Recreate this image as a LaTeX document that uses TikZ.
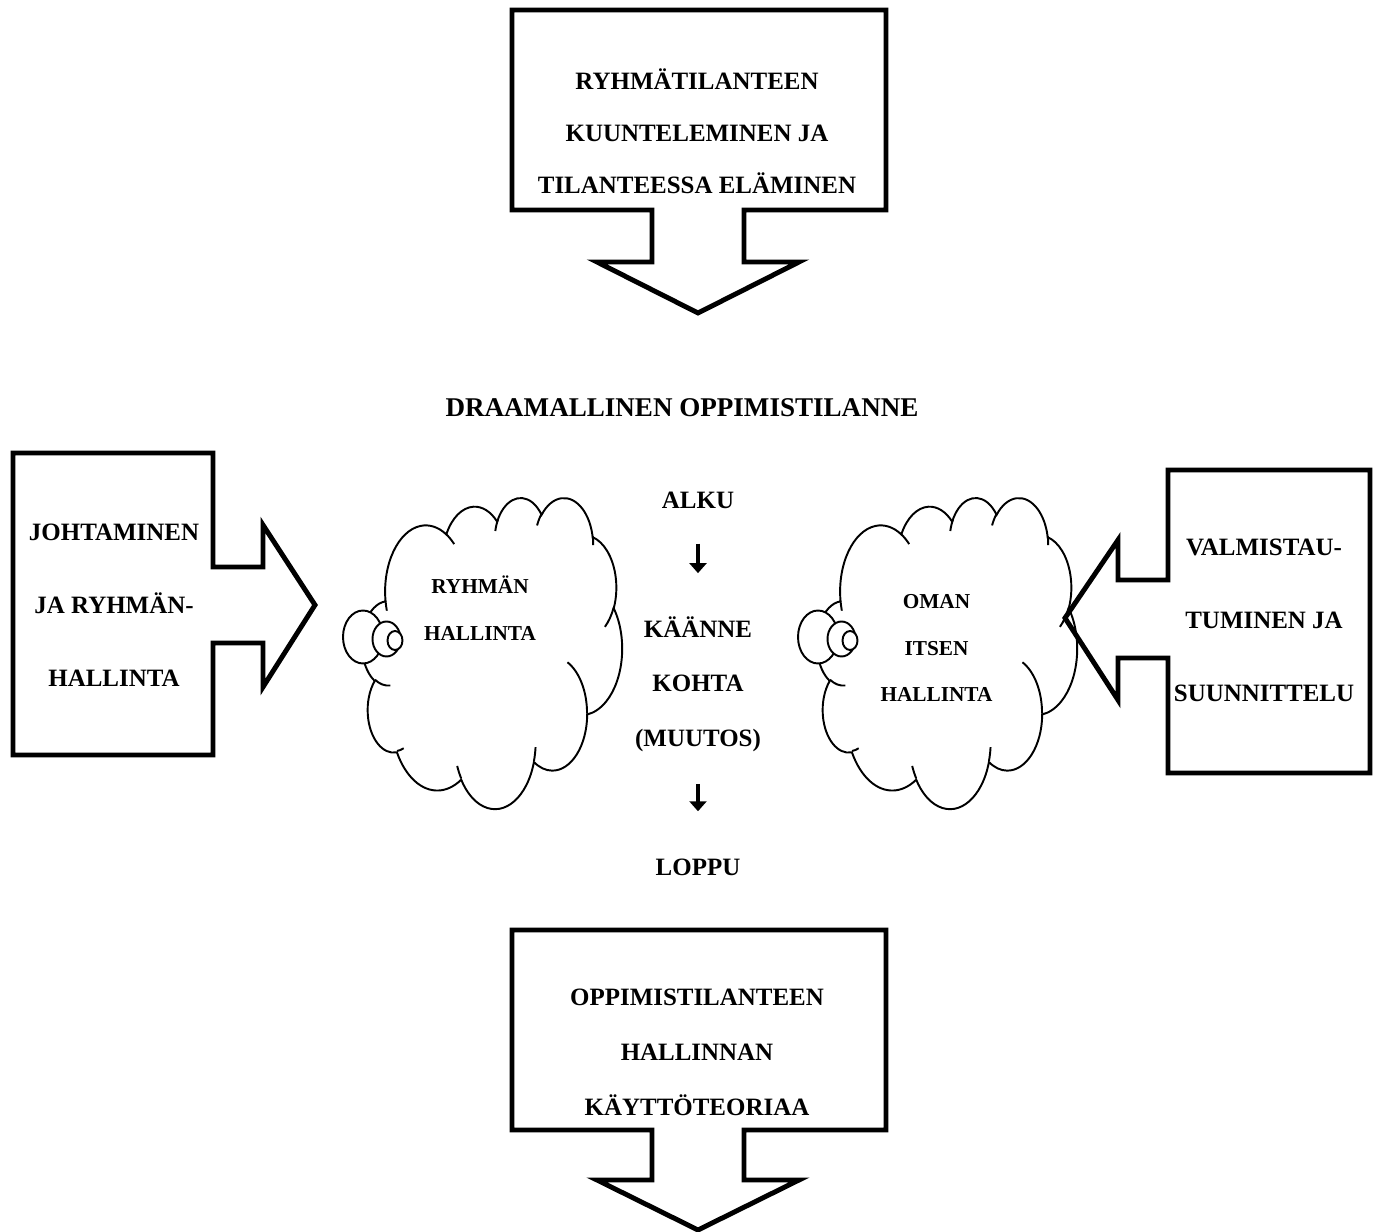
\documentclass[tikz,border=0pt]{standalone}
\usepackage{fontspec}
\setmainfont{Liberation Serif}
\usetikzlibrary{arrows.meta}

% one puff of the cloud: x radius, y radius, start angle, sweep (angles as seen, not parametric)
\newcommand\puff[4]{arc[x radius=#1,y radius=#2,
  start angle={atan2(#1*sin(#3),#2*cos(#3))},
  delta angle={mod(atan2(#1*sin(#3+#4),#2*cos(#3+#4))-atan2(#1*sin(#3),#2*cos(#3))+720,360)}]}

\tikzset{
  blockarrow/.style={draw=black,line width=2.8pt,line join=miter},
  cloudline/.style={draw=black,line width=1.1pt},
  boxtext/.style={align=center,inner sep=0pt,font=\fontsize{14.2}{31}\selectfont\bfseries},
  sidetext/.style={align=center,inner sep=0pt,font=\fontsize{14.2}{41.5}\selectfont\bfseries},
  cloudtext/.style={align=center,inner sep=0pt,font=\fontsize{12.1}{26.7}\selectfont\bfseries},
  steptext/.style={align=center,inner sep=0pt,font=\fontsize{14.2}{31}\selectfont\bfseries},
  title/.style={inner sep=0pt,font=\fontsize{15.4}{18}\selectfont\bfseries},
  flowarrow/.style={-{Triangle[length=2mm,width=3.4mm]},draw=black,line width=1.9pt},
  thought/.pic={
    \begin{scope}[xscale=0.1204,yscale=-0.1440]
      \draw[cloudline,fill=white] (3.900,14.370)
        \puff{6.753}{9.190}{-190.4875}{123.7805}
        \puff{5.333}{7.267}{-144.1024}{89.9452}
        \puff{4.365}{5.945}{-145.8079}{99.7230}
        \puff{4.857}{6.595}{-130.9861}{117.2417}
        \puff{5.333}{7.273}{-78.7089}{109.0269}
        \puff{6.775}{9.220}{-46.2673}{130.2690}
        \puff{5.785}{7.867}{0.6250}{114.0333}
        \puff{6.752}{9.215}{22.4516}{115.1726}
        \puff{7.720}{10.543}{66.2426}{75.7110}
        \puff{4.360}{5.918}{-274.9421}{146.7356}
        \puff{4.345}{5.945}{-246.8285}{152.5189} -- cycle;
      \draw[cloudline]
        (4.693,26.177) \puff{4.345}{5.945}{86.7420}{26.4295}
        (6.928,34.899) \puff{4.360}{5.918}{73.6105}{11.4475}
        (16.478,39.090) \puff{6.752}{9.215}{137.6242}{14.0811}
        (28.827,34.751) \puff{6.752}{9.215}{6.4533}{15.9984}
        (34.129,22.954) \puff{5.785}{7.867}{-70.2924}{70.9174}
        (41.798,15.354) \puff{5.333}{7.273}{30.3180}{27.7515}
        (38.324,5.426) \puff{4.857}{6.595}{-13.7443}{14.8589}
        (29.078,3.952) \puff{4.857}{6.595}{-149.1815}{18.1954}
        (22.141,4.720) \puff{4.365}{5.945}{-163.4943}{20.4915}
        (14.005,5.192) \puff{6.753}{9.190}{-66.7070}{12.3194}
        (4.127,15.789) \puff{6.753}{9.190}{157.6544}{11.8582};
    \end{scope}
    \draw[cloudline,fill=white] (0.02,-2.80) ellipse[x radius=0.40,y radius=0.53];
    \draw[cloudline,fill=white] (0.49,-2.84) ellipse[x radius=0.28,y radius=0.35];
    \draw[cloudline,fill=white] (0.66,-2.87) ellipse[x radius=0.15,y radius=0.19];
  },
}

\begin{document}
\begin{tikzpicture}[x=1cm,y=1cm]
\useasboundingbox (0,0) rectangle (27.6,24.62);

% thought clouds
\pic at (7.24,14.68) {thought};
\pic at (16.34,14.68) {thought};

% top
\draw[blockarrow] (10.24,24.42) -- (17.72,24.42) -- (17.72,20.42) -- (14.88,20.42) -- (14.88,19.38)
  -- (15.98,19.38) -- (13.96,18.36) -- (11.94,19.38) -- (13.04,19.38) -- (13.04,20.42) -- (10.24,20.42) -- cycle;
\node[boxtext,font=\fontsize{14.2}{29.5}\selectfont\bfseries] (listening) at (13.94,22.0)
  {RYHMÄTILANTEEN\\KUUNTELEMINEN JA\\TILANTEESSA ELÄMINEN};

\node[title] (drama) at (13.64,16.46) {DRAAMALLINEN OPPIMISTILANNE};

% left and right
\draw[blockarrow] (0.26,15.56) -- (4.26,15.56) -- (4.26,13.28) -- (5.26,13.28) -- (5.26,14.12)
  -- (6.30,12.52) -- (5.26,10.88) -- (5.26,11.76) -- (4.26,11.76) -- (4.26,9.52) -- (0.26,9.52) -- cycle;
\node[sidetext] (leading) at (2.28,12.52) {JOHTAMINEN\\JA RYHMÄN-\\HALLINTA};

\draw[blockarrow] (27.40,15.22) -- (23.36,15.22) -- (23.36,13.02) -- (22.36,13.02) -- (22.36,13.82)
  -- (21.30,12.26) -- (22.36,10.62) -- (22.36,11.46) -- (23.36,11.46) -- (23.36,9.16) -- (27.40,9.16) -- cycle;
\node[sidetext] (planning) at (25.28,12.22) {VALMISTAU-\\TUMINEN JA\\SUUNNITTELU};

\node[cloudtext] (groupctl) at (9.6,12.45) {RYHMÄN\\HALLINTA};
\node[cloudtext] (selfctl) at (18.73,11.66) {OMAN\\ITSEN\\HALLINTA};

% middle column
\node[steptext] (alku) at (13.96,14.62) {ALKU};
\node[steptext] (kaanne) at (13.96,10.94) {KÄÄNNE\\KOHTA\\(MUUTOS)};
\node[steptext] (loppu) at (13.96,7.28) {LOPPU};
\draw[flowarrow,shorten <=0.7cm,shorten >=0.86cm] (alku) -- (kaanne);
\draw[flowarrow,shorten <=0.64cm,shorten >=0.94cm] (kaanne) -- (loppu);

% bottom
\draw[blockarrow] (10.24,6.02) -- (17.72,6.02) -- (17.72,2.02) -- (14.88,2.02) -- (14.88,1.02)
  -- (15.98,1.02) -- (13.96,0.02) -- (11.94,1.02) -- (13.04,1.02) -- (13.04,2.02) -- (10.24,2.02) -- cycle;
\node[boxtext,font=\fontsize{14.2}{31.3}\selectfont\bfseries] (theory) at (13.94,3.58)
  {OPPIMISTILANTEEN\\HALLINNAN\\KÄYTTÖTEORIAA};

\end{tikzpicture}
\end{document}
